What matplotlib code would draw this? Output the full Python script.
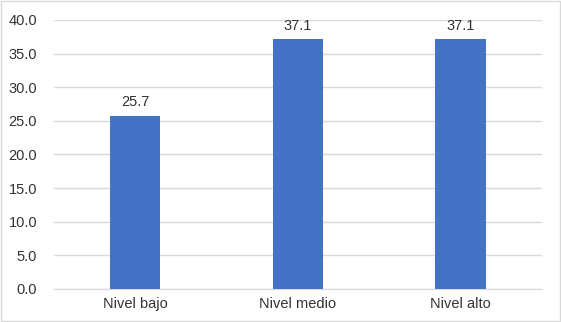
import matplotlib.pyplot as plt
from matplotlib.patches import Rectangle

plt.rcParams['font.family'] = ['Liberation Sans', 'DejaVu Sans']

categories = ["Nivel bajo", "Nivel medio", "Nivel alto"]
values = [25.7, 37.1, 37.1]
yticks = [0, 5, 10, 15, 20, 25, 30, 35, 40]

fig = plt.figure(figsize=(5.61, 3.22), dpi=100)
ax = fig.add_axes([0.096, 0.1025, 0.87, 0.8355])

ax.bar(range(len(categories)), values, width=0.31, color='#4472C4', zorder=3)
for i, v in enumerate(values):
    ax.text(i, v + 1.0, f"{v:.1f}", ha='center', va='bottom', fontsize=10.5, color='#333333')

ax.set_xlim(-0.5, 2.5)
ax.set_ylim(0, 40)
ax.set_yticks(yticks)
ax.set_yticklabels([f"{t:.1f}" for t in yticks])
ax.set_xticks(range(len(categories)))
ax.set_xticklabels(categories)
ax.tick_params(axis='both', length=0, labelsize=10.5, labelcolor='#333333')
ax.tick_params(axis='y', pad=12)
ax.tick_params(axis='x', pad=6)
ax.grid(axis='y', color='#D9D9D9', linewidth=1, zorder=0)
for s in ['top', 'right', 'left']:
    ax.spines[s].set_visible(False)
ax.spines['bottom'].set_color('#D9D9D9')

fig.patches.append(Rectangle((0.002, 0.003), 0.996, 0.994, transform=fig.transFigure,
                             fill=False, edgecolor='#D9D9D9', linewidth=1))

fig.savefig("out.png", dpi=100)
